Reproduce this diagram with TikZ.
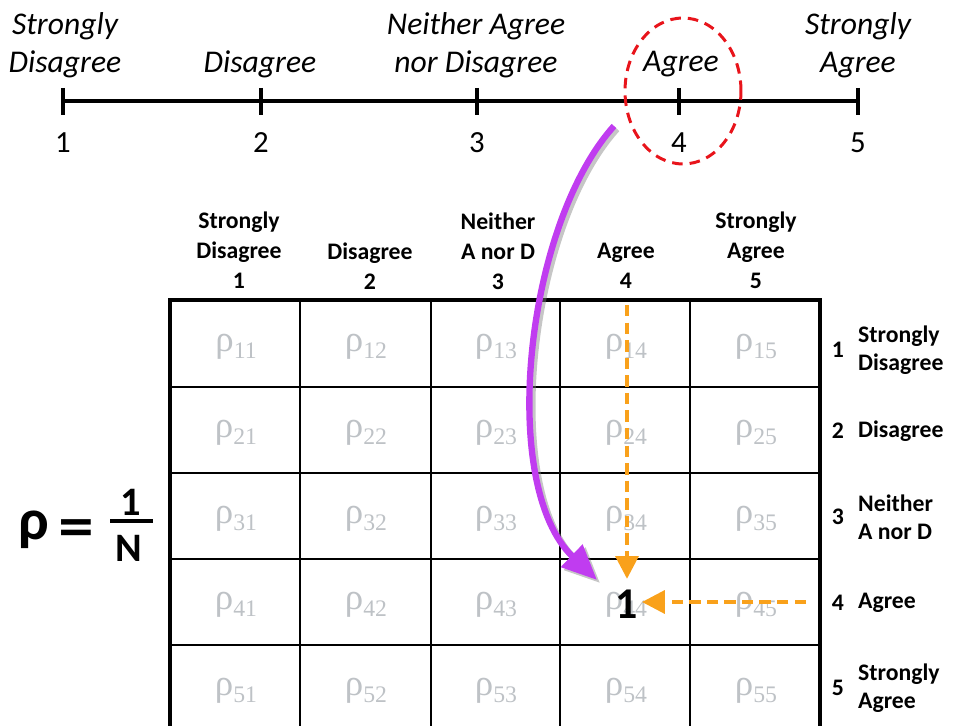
\documentclass[tikz,border=0pt]{standalone}
\usepackage{fontspec}
\setmainfont{Carlito}
\newfontfamily\rhofont{Liberation Serif}
\newfontfamily\zeichenfont{DejaVu Sans}
\usetikzlibrary{arrows.meta}
\definecolor{rot}{HTML}{E8141B}
\definecolor{orng}{HTML}{F9A11B}
\definecolor{lila}{HTML}{C03CF0}
\definecolor{hgrau}{HTML}{BEC2C6}
\tikzset{
  achse/.style={black,line width=1.8pt},
  gitter/.style={black,line width=0.85pt},
  rahmen/.style={black,line width=2.6pt},
  auswahl/.style={rot,dash pattern=on 6pt off 4pt,line width=1.7pt},
  pfeilo/.style={-{Triangle[length=13pt,width=13pt]},orng,line width=2.2pt,dash pattern=on 6.5pt off 3.5pt},
  pfeilp/.style={-{Triangle[length=20pt,width=17pt]},lila,line width=3.6pt},
  schatten/.style={-{Triangle[length=20pt,width=17pt]},black!50,opacity=0.45,line width=3.6pt},
  skala/.style={font=\fontsize{18}{21.5}\selectfont\itshape,align=center},
  ziffer/.style={font=\fontsize{17.5}{20}\selectfont},
  kopf/.style={font=\fontsize{13.5}{17}\selectfont\bfseries,align=center},
  zeile/.style={font=\fontsize{13.5}{16}\selectfont\bfseries,align=left,anchor=west},
  znr/.style={font=\fontsize{13.5}{16}\selectfont\bfseries},
  zelle/.style={font=\fontsize{21}{22}\selectfont\rhofont,text=hgrau},
  formel/.style={font=\fontsize{33}{35}\selectfont\bfseries},
  bruchteil/.style={font=\fontsize{23}{25}\selectfont\bfseries},
}

\begin{document}
\begin{tikzpicture}[x=0.02cm,y=-0.02cm]
  \clip (0,0) rectangle (957,726);
  % Skala oben
  \coordinate (t1) at (63,101);
  \coordinate (t5) at (858,101);
  \draw[achse] (t1) -- (t5);
  \foreach \x/\n in {63/1,261/2,477/3,679/4,858/5}{
    \draw[achse] (\x,88) -- (\x,115);
    \node[ziffer] (z\n) at (\x,143) {\n};
  }
  \node[skala] (s1) at (65,45) {Strongly\\Disagree};
  \node[skala] (s2) at (260,64) {Disagree};
  \node[skala] (s3) at (476,45) {Neither Agree\\nor Disagree};
  \node[skala] (s4) at (681,64) {Agree};
  \node[skala] (s5) at (858,45) {Strongly\\Agree};
  \draw[auswahl] (683,91) ellipse [x radius=1.16cm,y radius=1.46cm];

  % Matrix
  \foreach \x in {300,431,560,690} \draw[gitter] (\x,300) -- (\x,731);
  \foreach \y in {387,473,559,645} \draw[gitter] (170,\y) -- (820,\y);
  \draw[rahmen] (170,731) -- (170,300) -- (820,300) -- (820,731);
  \foreach \row in {1,...,5}
    \foreach \col in {1,...,5}
      \node[zelle] (c\row\col) at ({171+130*(\col-0.5)},{300+86*(\row-0.5)+4})
        {ρ\raisebox{-0.4ex}{\fontsize{13.5}{14}\selectfont\row\col}};

  \node[kopf] (k1) at (239,250) {Strongly\\Disagree\\1};
  \node[kopf] (k2) at (370,266) {Disagree\\2};
  \node[kopf] (k3) at (498,251) {Neither\\A nor D\\3};
  \node[kopf] (k4) at (626,266) {Agree\\4};
  \node[kopf] (k5) at (756,250) {Strongly\\Agree\\5};

  \node[znr] (r1) at (838,350) {1};
  \node[zeile] (l1) at (852,350) {Strongly\\Disagree};
  \node[znr] (r2) at (838,431) {2};
  \node[zeile] (l2) at (852,431) {Disagree};
  \node[znr] (r3) at (838,517) {3};
  \node[zeile] (l3) at (852,517) {Neither\\A nor D};
  \node[znr] (r4) at (838,603) {4};
  \node[zeile] (l4) at (852,603) {Agree};
  \node[znr] (r5) at (838,688) {5};
  \node[zeile] (l5) at (852,688) {Strongly\\Agree};

  % rho = 1/N
  \node[formel] (rho) at (34,530) {ρ};
  \node[font=\fontsize{27}{29}\selectfont\zeichenfont\bfseries] (gleich) at (76,531) {=};
  \node[bruchteil] (zaehler) at (131,502) {1};
  \node[bruchteil] (nenner) at (129,548) {N};
  \draw[black,line width=2.3pt] (110,521) -- (153,521);

  % Pfeile
  \node[font=\fontsize{25}{26}\selectfont\bfseries,inner xsep=2pt,inner ysep=6pt] (eins) at (627,604) {1};
  \coordinate (o1) at (627,305);
  \coordinate (o2) at (806,602);
  \draw[pfeilo] (o1) -- (eins.north);
  \draw[pfeilo] (o2) -- (o2 -| eins.east);
  \coordinate (pstart) at (614,126);
  \coordinate (pend) at (597,580);
  \begin{scope}[transform canvas={shift={(1.7pt,-1.7pt)}}]
    \draw[schatten] (pstart) .. controls (525,225) and (498,485) .. (pend);
  \end{scope}
  \draw[pfeilp] (pstart) .. controls (525,225) and (498,485) .. (pend);
\end{tikzpicture}
\end{document}
